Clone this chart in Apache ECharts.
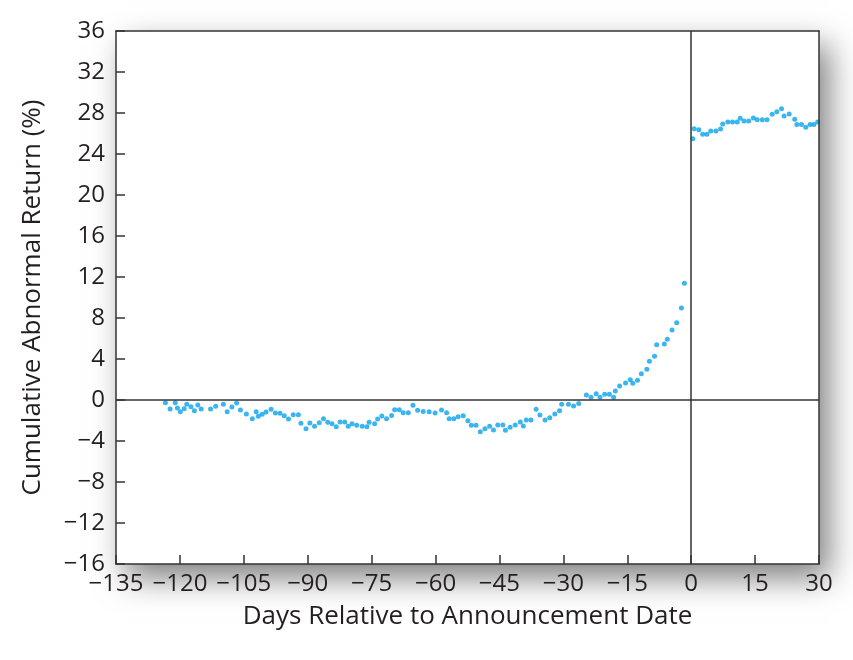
<!DOCTYPE html>
<html>
<head>
<meta charset="utf-8">
<script src="https://cdn.jsdelivr.net/npm/echarts@6/dist/echarts.min.js"></script>
<style>
  html, body { margin: 0; padding: 0; background: #fff; }
  #chart { width: 853px; height: 660px; }
</style>
</head>
<body>
<div id="chart"></div>
<script>
// days relative to announcement
var days = [
  -123.4, -122.3, -121.1, -120.6, -119.9, -119.0, -118.4, -117.4, -116.6, -115.8,
  -115.0, -112.8, -111.6, -109.8, -108.9, -107.8, -106.7, -105.8, -104.4, -103.0,
  -102.1, -101.6, -100.7, -99.8, -98.6, -97.6, -96.5, -95.5, -94.5, -93.4,
  -92.2, -91.6, -90.4, -89.5, -88.4, -87.3, -86.3, -85.3,
  -84.3, -83.3, -82.4, -81.3, -80.5, -79.6, -78.5, -77.2, -76.1, -75.6,
  -74.3, -73.6, -72.6, -71.5, -70.3, -69.6, -68.5, -67.6, -66.4, -65.3,
  -64.2, -62.9, -61.5, -60.1, -58.6, -57.4, -56.8, -55.7, -54.7, -53.5,
  -52.4, -51.6, -50.5, -49.5, -48.4, -47.3, -46.4, -45.4,
  -44.2, -43.6, -42.5, -41.3, -40.1, -39.4, -38.7, -37.6, -36.4, -35.5,
  -34.3, -33.2, -32.0, -30.9, -30.4, -28.8, -27.6, -26.4, -24.6, -23.5,
  -22.3, -21.4, -20.3, -19.2, -18.2, -17.8, -16.8,
  -15.4, -14.3, -13.7, -12.6, -11.7, -10.4, -9.8, -8.6, -8.1, -6.3,
  -5.6, -4.5, -3.4, -2.3, -1.6,
  0.4, 0.7, 1.8, 2.7, 3.7, 4.6, 5.8, 6.9, 7.4, 8.6,
  9.7, 10.8, 11.5, 12.4, 13.5, 14.6, 15.5, 16.7, 17.8, 19.0,
  20.1, 21.2, 21.8, 23.0, 24.3, 24.8, 25.9, 26.9, 27.9, 28.8, 29.7
];
// cumulative abnormal return (%)
var car = [
  -0.26, -0.88, -0.26, -0.78, -1.14, -0.85, -0.42, -0.65, -1.04, -0.49,
  -0.88, -0.88, -0.62, -0.42, -1.14, -0.68, -0.29, -0.98, -1.37, -1.82,
  -1.14, -1.59, -1.40, -1.17, -0.91, -1.27, -1.30, -1.53, -1.85, -1.43,
  -1.43, -2.28, -2.80, -2.24, -2.57, -2.21, -1.82, -2.18,
  -2.31, -2.60, -2.15, -2.15, -2.57, -2.31, -2.47, -2.57, -2.60, -2.18,
  -2.31, -1.85, -1.56, -1.82, -1.50, -0.94, -0.94, -1.24, -1.24, -0.52,
  -1.01, -1.11, -1.14, -1.27, -0.98, -1.24, -1.82, -1.82, -1.63, -1.53,
  -2.02, -2.47, -2.47, -3.09, -2.80, -2.57, -2.93, -2.44,
  -2.44, -2.96, -2.67, -2.44, -2.15, -2.54, -1.95, -1.95, -0.91, -1.46,
  -1.95, -1.72, -1.37, -1.04, -0.42, -0.42, -0.59, -0.33, 0.49, 0.26,
  0.62, 0.26, 0.55, 0.55, 0.26, 0.88, 1.37,
  1.66, 1.98, 1.63, 1.92, 2.57, 2.99, 3.77, 4.26, 5.40, 5.46,
  5.92, 6.83, 7.54, 8.98, 11.38,
  25.50, 26.47, 26.37, 25.92, 25.92, 26.24, 26.24, 26.44, 26.93, 27.12,
  27.12, 27.12, 27.48, 27.22, 27.22, 27.51, 27.35, 27.35, 27.35, 27.87,
  28.13, 28.42, 27.71, 27.90, 27.38, 26.89, 26.89, 26.60, 26.89, 26.89, 27.12
];
var xTicks = [-135, 30, 15];   // min, max, step
var yTicks = [-16, 36, 4];

var chart = echarts.init(document.getElementById('chart'));
var fontFamily = "'Open Sans', 'Noto Sans', sans-serif";
var textColor = '#231f20';
var lineColor = '#333';
var minus = function (v) { return v < 0 ? '\u2212' + Math.abs(v) : String(v); };

var points = [];
for (var i = 0; i < days.length; i++) {
  points.push([days[i], car[i]]);
}

// plain axis used only to close the box on top / right
function frameAxis(pos, ticks) {
  return {
    type: 'value',
    position: pos,
    z: 5,
    min: ticks[0],
    max: ticks[1],
    interval: ticks[2],
    axisLine: { show: true, onZero: false, lineStyle: { color: lineColor, width: 1.5 } },
    axisTick: { show: false },
    axisLabel: { show: false },
    splitLine: { show: false }
  };
}

var option = {
  animation: false,
  grid: {
    left: 116,
    right: 34,
    top: 31,
    bottom: 96,
    z: 0,
    show: true,
    backgroundColor: '#fff',
    borderWidth: 0,
    shadowColor: 'rgba(0,0,0,0.5)',
    shadowBlur: 30,
    shadowOffsetX: 10,
    shadowOffsetY: 14
  },
  xAxis: [{
    type: 'value',
    position: 'bottom',
    z: 5,
    min: xTicks[0],
    max: xTicks[1],
    interval: xTicks[2],
    name: 'Days Relative to Announcement Date',
    nameLocation: 'middle',
    nameGap: 40,
    nameTextStyle: { color: textColor, fontSize: 26, fontFamily: fontFamily },
    axisLine: { show: true, onZero: false, lineStyle: { color: lineColor, width: 1.5 } },
    axisTick: { show: true, inside: true, length: 9, lineStyle: { color: lineColor, width: 1.5 } },
    axisLabel: { color: textColor, fontSize: 24, fontFamily: fontFamily, margin: 8, formatter: minus },
    splitLine: { show: false }
  }, frameAxis('top', xTicks)],
  yAxis: [{
    type: 'value',
    position: 'left',
    z: 5,
    min: yTicks[0],
    max: yTicks[1],
    interval: yTicks[2],
    name: 'Cumulative Abnormal Return (%)',
    nameLocation: 'middle',
    nameGap: 70,
    nameTextStyle: { color: textColor, fontSize: 26, fontFamily: fontFamily },
    axisLine: { show: true, onZero: false, lineStyle: { color: lineColor, width: 1.5 } },
    axisTick: { show: true, inside: true, length: 9, lineStyle: { color: lineColor, width: 1.5 } },
    axisLabel: { color: textColor, fontSize: 24, fontFamily: fontFamily, margin: 11, formatter: minus },
    splitLine: { show: false }
  }, frameAxis('right', yTicks)],
  series: [{
    type: 'scatter',
    data: points,
    symbol: 'circle',
    symbolSize: 5,
    itemStyle: { color: '#0aa2ea' },
    markLine: {
      silent: true,
      symbol: ['none', 'none'],
      label: { show: false },
      lineStyle: { color: lineColor, width: 1.5, type: 'solid' },
      data: [{ xAxis: 0 }, { yAxis: 0 }]
    }
  }]
};
chart.setOption(option);
</script>
</body>
</html>
